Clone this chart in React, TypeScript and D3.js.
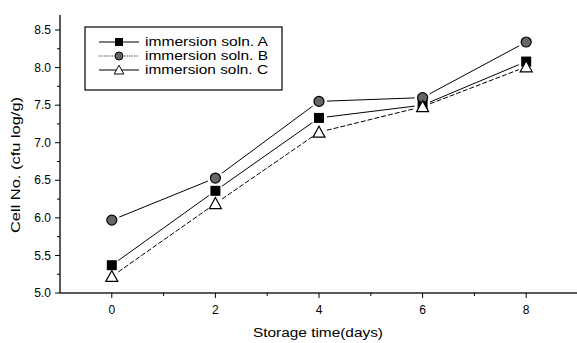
import * as d3 from "d3";
import React from "react";

const days = [0, 2, 4, 6, 8];
const solnA = [5.37, 6.36, 7.33, 7.5, 8.08];
const solnB = [5.97, 6.53, 7.55, 7.6, 8.34];
const solnC = [5.22, 6.19, 7.14, 7.48, 8.01];
const seriesNames = ["immersion soln. A", "immersion soln. B", "immersion soln. C"];
const xTicks = [0, 2, 4, 6, 8];
const xMinor = [1, 3, 5, 7];
const yTicks = [5.0, 5.5, 6.0, 6.5, 7.0, 7.5, 8.0, 8.5];
const yMinor = [5.25, 5.75, 6.25, 6.75, 7.25, 7.75, 8.25];

const W = 577;
const H = 343;
const font = "'Liberation Sans', Arial, sans-serif";
const tickFont = "'Liberation Sans Narrow', 'Liberation Sans', Arial, sans-serif";

const x = d3.scaleLinear().domain([-1, 9]).range([60, 578]);
const y = d3.scaleLinear().domain([5, 8.5]).range([293, 30]);
const yTop = y(8.7);

// segments between points, trimmed so they stop short of the markers (Origin style)
function segments(vals: number[], gap: number) {
  const out: string[] = [];
  for (let i = 0; i < vals.length - 1; i++) {
    const x1 = x(days[i]), y1 = y(vals[i]);
    const x2 = x(days[i + 1]), y2 = y(vals[i + 1]);
    const len = Math.hypot(x2 - x1, y2 - y1);
    const ux = (x2 - x1) / len, uy = (y2 - y1) / len;
    out.push(
      d3.line()([
        [x1 + ux * gap, y1 + uy * gap],
        [x2 - ux * gap, y2 - uy * gap],
      ]) as string
    );
  }
  return out;
}

const Marker = ({ kind, cx, cy }: { kind: number; cx: number; cy: number }) => {
  if (kind === 0)
    return <rect x={cx - 5} y={cy - 5} width={10} height={10} fill="#000" />;
  if (kind === 1)
    return <circle cx={cx} cy={cy} r={5} fill="#666" stroke="#000" strokeWidth={1.2} />;
  return (
    <path
      d={`M${cx},${cy - 6}L${cx + 6},${cy + 5}L${cx - 6},${cy + 5}Z`}
      fill="#fff"
      stroke="#000"
      strokeWidth={1.2}
    />
  );
};

const series = [
  { vals: solnA, dash: undefined, legendDash: undefined, legendStroke: "#000" },
  { vals: solnB, dash: undefined, legendDash: "1.5,1", legendStroke: "#555" },
  { vals: solnC, dash: "5,2", legendDash: undefined, legendStroke: "#000" },
];

export default function App() {
  return (
    <svg
      width={W}
      height={H}
      style={{ position: "fixed", left: 0, top: 0, background: "#fff" }}
    >
      {/* y axis */}
      <line x1={60} x2={60} y1={y(5)} y2={yTop} stroke="#000" strokeWidth={1.3} />
      {yTicks.map((t) => (
        <g key={t}>
          <line x1={55} x2={60} y1={y(t)} y2={y(t)} stroke="#000" />
          <text
            x={51}
            y={y(t)}
            dy="0.35em"
            textAnchor="end"
            fontFamily={tickFont}
            fontSize={12}
          >
            {t.toFixed(1)}
          </text>
        </g>
      ))}
      {yMinor.map((t) => (
        <line key={t} x1={57} x2={60} y1={y(t)} y2={y(t)} stroke="#000" />
      ))}

      {/* x axis */}
      <line x1={60} x2={W} y1={y(5)} y2={y(5)} stroke="#222" strokeWidth={1.6} />
      {xTicks.map((t) => (
        <g key={t}>
          <line x1={x(t)} x2={x(t)} y1={y(5)} y2={y(5) + 5} stroke="#000" />
          <text
            x={x(t)}
            y={314}
            textAnchor="middle"
            fontFamily={tickFont}
            fontSize={12}
          >
            {t}
          </text>
        </g>
      ))}
      {xMinor.map((t) => (
        <line key={t} x1={x(t)} x2={x(t)} y1={y(5)} y2={y(5) + 3} stroke="#000" />
      ))}

      {/* axis titles */}
      <text
        transform={`translate(20,165) rotate(-90)`}
        textAnchor="middle"
        fontFamily={font}
        fontSize={13}
        textLength={136}
        lengthAdjust="spacingAndGlyphs"
      >
        Cell No. (cfu log/g)
      </text>
      <text
        x={318}
        y={337}
        textAnchor="middle"
        fontFamily={font}
        fontSize={13}
        textLength={130}
        lengthAdjust="spacingAndGlyphs"
      >
        Storage time(days)
      </text>

      {/* series */}
      {series.map((s, i) => (
        <g key={i}>
          {segments(s.vals, 8).map((d, j) => (
            <path
              key={j}
              d={d}
              fill="none"
              stroke="#000"
              strokeWidth={1}
              strokeDasharray={s.dash}
            />
          ))}
        </g>
      ))}
      {series.map((s, i) => (
        <g key={"m" + i}>
          {s.vals.map((v, j) => (
            <Marker key={j} kind={i} cx={x(days[j])} cy={y(v)} />
          ))}
        </g>
      ))}

      {/* legend */}
      <rect x={85} y={27} width={197} height={63} fill="#fff" stroke="#000" strokeWidth={1.2} />
      {series.map((s, i) => {
        const ly = 42 + i * 14;
        return (
          <g key={"l" + i}>
            <line
              x1={99}
              x2={139}
              y1={ly}
              y2={ly}
              stroke={s.legendStroke}
              strokeWidth={1.2}
              strokeDasharray={s.legendDash}
            />
            <g transform={`translate(119,${ly}) scale(0.8) translate(-119,${-ly})`}>
              <Marker kind={i} cx={119} cy={ly} />
            </g>
            <text
              x={145}
              y={ly}
              dy="0.35em"
              fontFamily={font}
              fontSize={12}
              textLength={123}
              lengthAdjust="spacingAndGlyphs"
            >
              {seriesNames[i]}
            </text>
          </g>
        );
      })}
    </svg>
  );
}
